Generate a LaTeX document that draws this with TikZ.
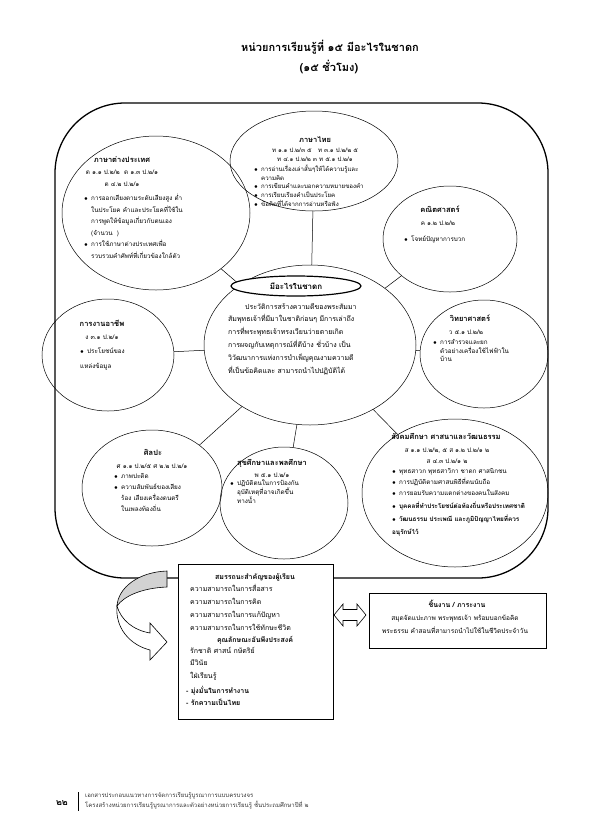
\documentclass[tikz,border=0pt]{standalone}
\usepackage{fontspec}
\setmainfont[Script=Thai]{Loma}
\usetikzlibrary{shapes.geometric}
\newcommand{\bu}{\makebox[7pt][l]{$\bullet$}}
\newcommand{\hi}{\hspace*{7pt}}
\begin{document}
\begin{tikzpicture}[x=1pt,y=-1pt,
  ell/.style={draw, ellipse, line width=0.5pt, inner sep=0pt},
  lbl/.style={font=\bfseries\fontsize{7.5}{9}\selectfont, inner sep=0pt},
  txt/.style={font=\fontsize{6.3}{10}\selectfont, inner sep=0pt, align=left},
  ctxt/.style={font=\fontsize{6.3}{10}\selectfont, inner sep=0pt, align=center},
  conn/.style={line width=0.5pt},
  box/.style={draw, line width=0.8pt, fill=white, inner sep=0pt}]
\useasboundingbox (0,0) rectangle (595,836);
% title
\node[font=\bfseries\fontsize{11}{13}\selectfont, inner sep=0pt] (title) at (330,47) {หน่วยการเรียนรู้ที่ ๑๕ มีอะไรในชาดก};
\node[font=\bfseries\fontsize{11}{13}\selectfont, inner sep=0pt] (hours) at (329,67) {(๑๕ ชั่วโมง)};
% frame
\draw[line width=1.3pt, rounded corners=70pt] (55,103) rectangle (548,578);
% ellipses
\node[ell, minimum width=168pt, minimum height=100pt] (thai) at (314,161) {};
\node[ell, minimum width=188pt, minimum height=154pt] (foreign) at (156,213) {};
\node[ell, minimum width=134pt, minimum height=106pt] (math) at (450,239) {};
\node[ell, minimum width=212pt, minimum height=160pt] (core) at (310,345) {};
\node[ell, minimum width=132pt, minimum height=112pt] (career) at (108,355) {};
\node[ell, minimum width=128pt, minimum height=108pt] (sci) at (484,354) {};
\node[ell, minimum width=140pt, minimum height=116pt] (art) at (152,488) {};
\node[ell, minimum width=128pt, minimum height=112pt] (health) at (284,503) {};
\node[ell, minimum width=186pt, minimum height=148pt] (social) at (455,493) {};
% connectors
\foreach \n in {thai,foreign,math,career,sci,art,health,social}
  \draw[conn] (core) -- (\n);
% core label
\node[ell, line width=1.2pt, fill=white, minimum width=130pt, minimum height=20pt] (corelblbox) at (296,286) {};
\node[lbl, font=\bfseries\fontsize{8}{9}\selectfont] (corelbl) at (296,286) {มีอะไรในชาดก};
\node[txt, font=\fontsize{7}{12.8}\selectfont, anchor=north west] (coretxt) at (228,303) {\hspace*{17pt}ประวัติการสร้างความดีของพระสัมมา\\สัมพุทธเจ้าที่มีมาในชาติก่อนๆ มีการเล่าถึง\\การที่พระพุทธเจ้าทรงเวียนว่ายตายเกิด\\การผจญกับเหตุการณ์ที่ดีบ้าง ชั่วบ้าง เป็น\\วิวัฒนาการแห่งการบำเพ็ญคุณงามความดี\\ที่เป็นข้อคิดและ สามารถนำไปปฏิบัติได้};
% thai
\node[lbl] (thailbl) at (315,140) {ภาษาไทย};
\node[ctxt, font=\fontsize{6.1}{8.5}\selectfont] (thaicode) at (315,155) {ท ๑.๑ ป.๒/๓ ๕ \ \ ท ๓.๑ ป.๒/๒ ๕\\ท ๔.๑ ป.๒/๒ ๓ ท ๕.๑ ป.๒/๑};
\node[txt, font=\fontsize{6.1}{8.6}\selectfont, anchor=north west] (thaitxt) at (254,165) {\bu การอ่านเรื่องเล่าสั้นๆให้ได้ความรู้และ\\\hi ความคิด\\\bu การเขียนคำและบอกความหมายของคำ\\\bu การเรียบเรียงคำเป็นประโยค\\\bu ข้อคิดที่ได้จากการอ่านหรือฟัง};
% foreign
\node[lbl] (forlbl) at (122,160) {ภาษาต่างประเทศ};
\node[ctxt, font=\fontsize{6.3}{11.5}\selectfont] (forcode) at (122,178) {ต ๑.๑ ป.๒/๒ \ ต ๑.๓ ป.๒/๑\\ต ๔.๒ ป.๒/๑};
\node[txt, font=\fontsize{6.3}{11.5}\selectfont, anchor=north west] (fortxt) at (84,194) {\bu การออกเสียงตามระดับเสียงสูง ต่ำ\\\hi ในประโยค คำและประโยคที่ใช้ใน\\\hi การพูดให้ข้อมูลเกี่ยวกับตนเอง\\\hi (จำนวน \ )\\\bu การใช้ภาษาต่างประเทศเพื่อ\\\hi รวบรวมคำศัพท์ที่เกี่ยวข้องใกล้ตัว};
% math
\node[lbl] (mathlbl) at (440,209) {คณิตศาสตร์};
\node[ctxt] (mathcode) at (438,223) {ค ๑.๒ ป.๒/๒};
\node[txt, anchor=west] (mathtxt) at (404,239) {\bu โจทย์ปัญหาการบวก};
% career
\node[lbl] (carlbl) at (102,323) {การงานอาชีพ};
\node[ctxt] (carcode) at (102,337) {ง ๓.๑ ป.๒/๑};
\node[txt, font=\fontsize{6.3}{14.5}\selectfont, anchor=north west] (cartxt) at (80,348) {\bu ประโยชน์ของ\\แหล่งข้อมูล};
% science
\node[lbl] (scilbl) at (470,318) {วิทยาศาสตร์};
\node[ctxt] (scicode) at (466,332) {ว ๕.๑ ป.๒/๒};
\node[txt, font=\fontsize{6.3}{8.8}\selectfont, anchor=north west] (scitxt) at (433,339) {\bu การสำรวจและยก\\\hi ตัวอย่างเครื่องใช้ไฟฟ้าใน\\\hi บ้าน};
% art
\node[lbl] (artlbl) at (153,452) {ศิลปะ};
\node[ctxt] (artcode) at (152,466) {ศ ๑.๑ ป.๒/๕ ศ ๒.๒ ป.๒/๑};
\node[txt, font=\fontsize{6.3}{11}\selectfont, anchor=north west] (arttxt) at (114,473) {\bu ภาพปะติด\\\bu ความสัมพันธ์ของเสียง\\\hi ร้อง เสียงเครื่องดนตรี\\\hi ในเพลงท้องถิ่น};
% health
\node[lbl] (heallbl) at (272,463) {สุขศึกษาและพลศึกษา};
\node[ctxt] (healcode) at (272,475) {พ ๕.๑ ป.๒/๑};
\node[txt, font=\fontsize{6.3}{9}\selectfont, anchor=north west] (healtxt) at (230,480) {\bu ปฏิบัติตนในการป้องกัน\\\hi อุบัติเหตุที่อาจเกิดขึ้น\\\hi ทางน้ำ};
% social
\node[lbl] (soclbl) at (446,436) {สังคมศึกษา ศาสนาและวัฒนธรรม};
\node[ctxt, font=\fontsize{6.3}{11}\selectfont] (soccode) at (447,456) {ส ๑.๑ ป.๒/๒, ๕ ส ๑.๒ ป.๒/๑ ๒\\ส ๔.๓ ป.๒/๑ ๒};
\node[txt, font=\fontsize{6.3}{11}\selectfont, anchor=north west] (soctxt) at (392,468) {\bu พุทธสาวก พุทธสาวิกา ชาดก ศาสนิกชน\\\bu การปฏิบัติตามศาสนพิธีที่ตนนับถือ\\\bu การยอมรับความแตกต่างของคนในสังคม};
\node[txt, font=\bfseries\fontsize{6.3}{13}\selectfont, anchor=north west] (socbold) at (392,502) {\bu บุคคลที่ทำประโยชน์ต่อท้องถิ่นหรือประเทศชาติ\\\bu วัฒนธรรม ประเพณี และภูมิปัญญาไทยที่ควร\\อนุรักษ์ไว้};
% competency box
\node[box, minimum width=155pt, minimum height=155pt, anchor=north west] (comp) at (178,564) {};
\node[lbl, font=\bfseries\fontsize{7}{9}\selectfont] (comptitle) at (255,577) {สมรรถนะสำคัญของผู้เรียน};
\node[txt, font=\fontsize{7}{13}\selectfont, anchor=north west] (complist) at (190,584) {ความสามารถในการสื่อสาร\\ความสามารถในการคิด\\ความสามารถในการแก้ปัญหา\\ความสามารถในการใช้ทักษะชีวิต};
\node[lbl, font=\bfseries\fontsize{7}{9}\selectfont] (chartitle) at (255,640) {คุณลักษณะอันพึงประสงค์};
\node[txt, font=\fontsize{7}{12.5}\selectfont, anchor=north west] (charlist) at (190,647) {รักชาติ ศาสน์ กษัตริย์\\มีวินัย\\ใฝ่เรียนรู้};
\node[txt, font=\bfseries\fontsize{7}{12.5}\selectfont, anchor=north west] (charbold) at (186,686) {- มุ่งมั่นในการทำงาน\\- รักความเป็นไทย};
% work box
\node[box, minimum width=177pt, minimum height=55pt, anchor=north west] (work) at (369,593) {};
\node[lbl, font=\bfseries\fontsize{7}{9}\selectfont] (worktitle) at (457,604) {ชิ้นงาน / ภาระงาน};
\node[ctxt, font=\fontsize{6.5}{13}\selectfont] (worktxt) at (455,624) {สมุดจัดแปะภาพ พระพุทธเจ้า พร้อมบอกข้อคิด\\พระธรรม คำสอนที่สามารถนำไปใช้ในชีวิตประจำวัน};
% double arrow
\draw[line width=0.6pt, fill=white] (334,615) -- (343,604) -- (343,609.5) -- (357,609.5) -- (357,604) -- (366,615) -- (357,626) -- (357,620.5) -- (343,620.5) -- (343,626) -- cycle;
% curved arrow
\draw[line width=0.6pt, fill=gray!35] (167,571) .. controls (138,572) and (118,588) .. (117,606) .. controls (124,596) and (142,588) .. (167,587) -- cycle;
\draw[line width=0.6pt, fill=white] (117,606) .. controls (115,628) and (130,645) .. (150,650) -- (150,660) -- (167,642) -- (150,623) -- (150,633) .. controls (133,630) and (121,620) .. (117,606) -- cycle;
% footer
\draw[line width=0.8pt] (78,792) -- (78,811);
\node[font=\bfseries\fontsize{9}{10}\selectfont, inner sep=0pt] (pagenum) at (62,803) {๒๒};
\node[txt, font=\fontsize{6}{10}\selectfont, anchor=north west, text=black!80] (footer) at (85,792) {เอกสารประกอบแนวทางการจัดการเรียนรู้บูรณาการแบบครบวงจร\\โครงสร้างหน่วยการเรียนรู้บูรณาการและตัวอย่างหน่วยการเรียนรู้ ชั้นประถมศึกษาปีที่ ๒};
\end{tikzpicture}
\end{document}
